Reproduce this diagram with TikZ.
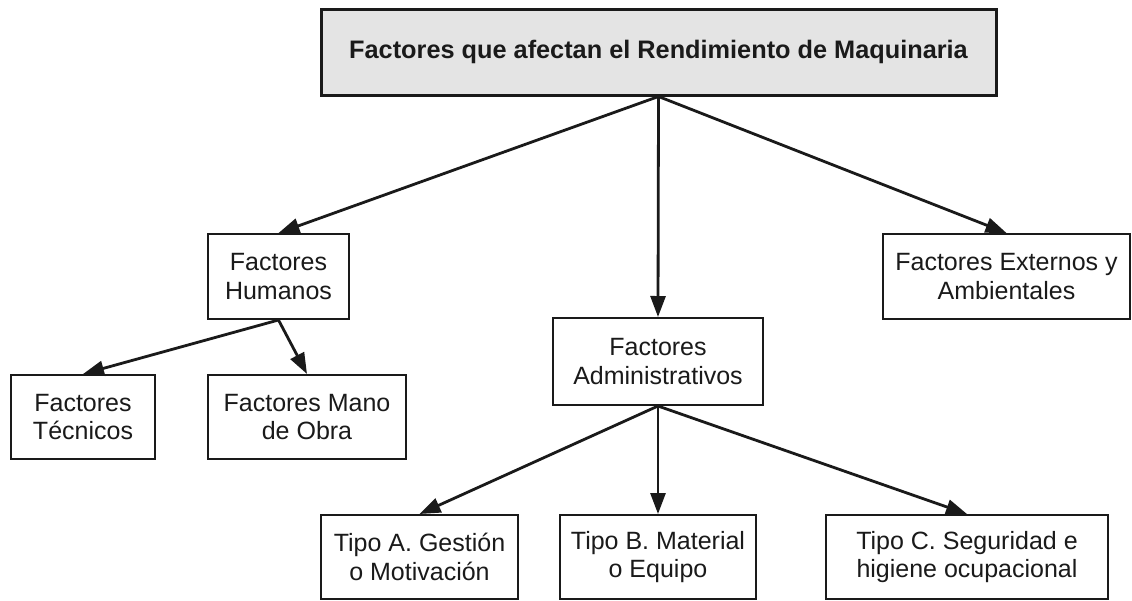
\documentclass[tikz,border=0pt]{standalone}
\usepackage{fontspec}
\setmainfont{Liberation Sans}
\usetikzlibrary{arrows.meta}
\definecolor{boxgray}{HTML}{E4E4E4}
\definecolor{ink}{HTML}{1A1A1A}
\begin{document}
\begin{tikzpicture}[x=1pt,y=-1pt,
  box/.style={draw=ink,line width=2pt,fill=white,align=center,inner sep=0pt,
    font=\fontsize{25}{28.5}\selectfont,text=ink},
  topbox/.style={box,line width=3pt,fill=boxgray,font=\fontsize{25.3}{30}\selectfont\bfseries},
  conn/.style={draw=ink,line width=2.8pt,-{Triangle[length=21pt,width=15pt]}}]
\useasboundingbox (0,0) rectangle (1132,600);
\node[topbox,minimum width=675pt,minimum height=86pt] (top) at (658.5,52) {Factores que afectan el Rendimiento de Maquinaria};
\node[box,minimum width=141pt,minimum height=85pt] (hum) at (278.5,276.5) {Factores\\Humanos};
\node[box,minimum width=247pt,minimum height=85pt] (ext) at (1006.5,276.5) {Factores Externos y\\Ambientales};
\node[box,minimum width=210pt,minimum height=87pt] (adm) at (658,361.5) {Factores\\Administrativos};
\node[box,minimum width=144pt,minimum height=84pt] (tec) at (83,417) {Factores\\Técnicos};
\node[box,minimum width=198pt,minimum height=84pt] (man) at (307,417) {Factores Mano\\de Obra};
\node[box,minimum width=197pt,minimum height=84pt] (ta) at (419.5,557) {Tipo A. Gestión\\o Motivación};
\node[box,minimum width=196pt,minimum height=84pt] (tb) at (658,557) {Tipo B. Material\\o Equipo};
\node[box,minimum width=282pt,minimum height=84pt] (tc) at (967,557) {Tipo C. Seguridad e\\higiene ocupacional};
\draw[conn] (top.south) -- (hum.north);
\draw[conn] (top.south) -- (adm.north);
\draw[conn] (top.south) -- (ext.north);
\draw[conn] (hum.south) -- (tec.north);
\draw[conn] (hum.south) -- (man.north);
\draw[conn] (adm.south) -- (ta.north);
\draw[conn] (adm.south) -- (tb.north);
\draw[conn] (adm.south) -- (tc.north);
\end{tikzpicture}
\end{document}
